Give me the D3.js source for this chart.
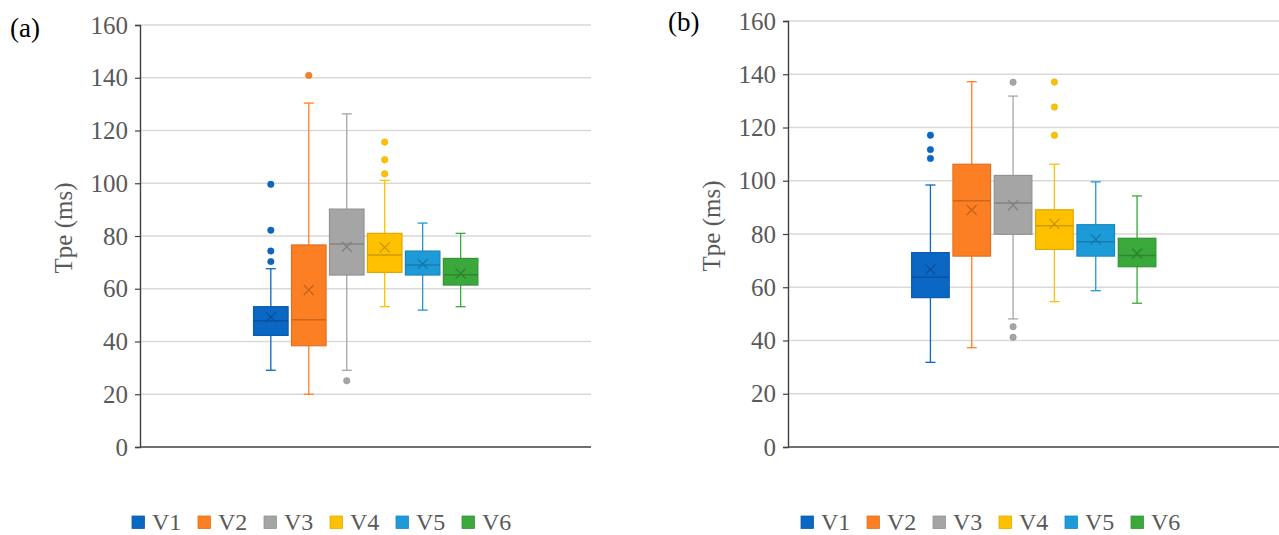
<!DOCTYPE html>
<meta charset="utf-8">
<script src="https://d3js.org/d3.v7.min.js"></script>
<style>
  body { margin: 0; background: #fff; }
</style>
<div id="my_dataviz"></div>

<script>
  // series names and colours
  var series = ["V1", "V2", "V3", "V4", "V5", "V6"];
  var colors = ["#0b67c4", "#fd7f23", "#a5a5a5", "#ffc000", "#1c9bd8", "#3aa83a"];
  var yTicks = [0, 20, 40, 60, 80, 100, 120, 140, 160];

  // panel (a) box statistics
  var aMin    = [29.1, 20.0, 29.1, 53.2, 51.9, 53.2];
  var aQ1     = [42.3, 38.4, 65.2, 66.2, 65.2, 61.4];
  var aMedian = [47.9, 48.2, 77.0, 72.8, 69.0, 65.3];
  var aQ3     = [53.2, 76.6, 90.2, 81.0, 74.3, 71.5];
  var aMax    = [67.6, 130.4, 126.3, 101.1, 84.9, 81.0];
  var aMean   = [49.2, 59.5, 75.9, 75.7, 69.4, 65.8];
  var aOutliers = [[99.6, 82.2, 74.3, 70.3], [140.9], [25.1], [115.6, 108.9, 103.6], [], []];

  // panel (b) box statistics
  var bMin    = [31.8, 37.3, 48.1, 54.6, 58.7, 54.0];
  var bQ1     = [56.1, 71.7, 79.9, 74.2, 71.7, 67.7];
  var bMedian = [63.8, 92.5, 91.6, 83.1, 77.1, 71.9];
  var bQ3     = [73.0, 106.2, 102.0, 89.1, 83.5, 78.4];
  var bMax    = [98.4, 137.2, 131.8, 106.2, 99.6, 94.3];
  var bMean   = [66.7, 89.0, 90.8, 83.8, 78.0, 72.7];
  var bOutliers = [[117.1, 111.7, 108.4], [], [137.0, 45.2, 41.2], [137.1, 127.7, 117.1], [], []];

  var FONT = "'Liberation Serif', 'Times New Roman', Times, 'DejaVu Serif', serif";

  var svg = d3.select("#my_dataviz")
    .append("svg")
    .attr("width", 1279)
    .attr("height", 535)
    .style("font-family", FONT);

  function buildRows(mn, q1, md, q3, mx, mean, outl) {
    return series.map(function (s, i) {
      return { key: s, i: i, min: mn[i], q1: q1[i], median: md[i], q3: q3[i], max: mx[i], mean: mean[i], outliers: outl[i] };
    });
  }

  function drawPanel(cfg) {
    var rows = buildRows.apply(null, cfg.data);
    var w = cfg.right - cfg.left;

    var y = d3.scaleLinear().domain([0, 160]).range([cfg.bottom, cfg.top]);
    var x = d3.scaleBand()
      .domain(series)
      .range([cfg.left + w * 0.248, cfg.left + w * 0.753])
      .paddingInner(0.09)
      .paddingOuter(0.045);

    var g = svg.append("g");

    // gridlines
    g.selectAll("grid")
      .data(yTicks.filter(function (t) { return t > 0; }))
      .enter()
      .append("line")
      .attr("x1", cfg.left)
      .attr("x2", cfg.right)
      .attr("y1", function (d) { return y(d); })
      .attr("y2", function (d) { return y(d); })
      .attr("stroke", "#d9d9d9")
      .attr("stroke-width", 1.3);

    // y axis
    var axis = g.append("g")
      .attr("transform", "translate(" + cfg.left + ",0)")
      .call(d3.axisLeft(y).tickValues(yTicks).tickSize(5).tickPadding(7));
    axis.attr("font-family", null);
    axis.select(".domain").attr("stroke", "#404040").attr("stroke-width", 1.4);
    axis.selectAll(".tick line").attr("stroke", "#404040").attr("stroke-width", 1.2);
    axis.selectAll(".tick text")
      .attr("fill", "#595959")
      .style("font-family", FONT)
      .style("font-size", "25px");

    // x baseline
    g.append("line")
      .attr("x1", cfg.left)
      .attr("x2", cfg.right)
      .attr("y1", y(0))
      .attr("y2", y(0))
      .attr("stroke", "#404040")
      .attr("stroke-width", 1.6);

    // y label
    g.append("text")
      .attr("transform", "translate(" + cfg.labelX + "," + ((cfg.top + cfg.bottom) / 2 - 8) + ") rotate(-90)")
      .attr("text-anchor", "middle")
      .attr("dy", "0.35em")
      .attr("fill", "#595959")
      .style("font-family", FONT)
      .style("font-size", "25px")
      .text("Tpe (ms)");

    // panel tag
    g.append("text")
      .attr("x", cfg.tagX)
      .attr("y", cfg.tagY)
      .attr("fill", "#000")
      .style("font-family", FONT)
      .style("font-size", "27px")
      .text(cfg.tag);

    var bw = x.bandwidth();
    var cap = 5;

    var boxes = g.selectAll("boxes")
      .data(rows)
      .enter()
      .append("g")
      .attr("transform", function (d) { return "translate(" + (x(d.key) + bw / 2) + ",0)"; });

    // whiskers
    boxes.append("line")
      .attr("x1", 0).attr("x2", 0)
      .attr("y1", function (d) { return y(d.max); })
      .attr("y2", function (d) { return y(d.min); })
      .attr("stroke", function (d) { return colors[d.i]; })
      .attr("stroke-width", 1.3);
    boxes.append("line")
      .attr("x1", -cap).attr("x2", cap)
      .attr("y1", function (d) { return y(d.max); })
      .attr("y2", function (d) { return y(d.max); })
      .attr("stroke", function (d) { return colors[d.i]; })
      .attr("stroke-width", 1.3);
    boxes.append("line")
      .attr("x1", -cap).attr("x2", cap)
      .attr("y1", function (d) { return y(d.min); })
      .attr("y2", function (d) { return y(d.min); })
      .attr("stroke", function (d) { return colors[d.i]; })
      .attr("stroke-width", 1.3);

    // box
    boxes.append("rect")
      .attr("x", -bw / 2)
      .attr("width", bw)
      .attr("y", function (d) { return y(d.q3); })
      .attr("height", function (d) { return y(d.q1) - y(d.q3); })
      .attr("fill", function (d) { return colors[d.i]; })
      .attr("stroke", function (d) { return d3.color(colors[d.i]).darker(0.35); })
      .attr("stroke-width", 1.2);

    // median
    boxes.append("line")
      .attr("x1", -bw / 2).attr("x2", bw / 2)
      .attr("y1", function (d) { return y(d.median); })
      .attr("y2", function (d) { return y(d.median); })
      .attr("stroke", function (d) { return d3.color(colors[d.i]).darker(0.6); })
      .attr("stroke-width", 1.5);

    // mean marker (x)
    boxes.append("path")
      .attr("d", function (d) {
        var cy = y(d.mean), s = 5;
        return "M" + (-s) + "," + (cy - s) + "L" + s + "," + (cy + s) +
          "M" + (-s) + "," + (cy + s) + "L" + s + "," + (cy - s);
      })
      .attr("stroke", function (d) { return d3.color(colors[d.i]).darker(0.7); })
      .attr("stroke-width", 1.3)
      .attr("fill", "none");

    // outliers
    boxes.selectAll("outl")
      .data(function (d) { return d.outliers.map(function (v) { return { v: v, i: d.i }; }); })
      .enter()
      .append("circle")
      .attr("cx", 0)
      .attr("cy", function (d) { return y(d.v); })
      .attr("r", 3.2)
      .attr("fill", function (d) { return colors[d.i]; })
      .attr("stroke", function (d) { return d3.color(colors[d.i]).darker(0.3); })
      .attr("stroke-width", 0.6);

    // legend
    var leg = g.selectAll("legend")
      .data(series)
      .enter()
      .append("g")
      .attr("transform", function (d, i) { return "translate(" + (cfg.legendX + i * 66) + ",516)"; });
    leg.append("rect")
      .attr("width", 12.5)
      .attr("height", 12.5)
      .attr("fill", function (d, i) { return colors[i]; })
      .attr("stroke", function (d, i) { return d3.color(colors[i]).darker(0.3); })
      .attr("stroke-width", 0.8);
    leg.append("text")
      .attr("x", 20)
      .attr("y", 14)
      .attr("fill", "#595959")
      .style("font-family", FONT)
      .style("font-size", "24px")
      .text(function (d) { return d; });
  }

  drawPanel({
    data: [aMin, aQ1, aMedian, aQ3, aMax, aMean, aOutliers],
    left: 140, right: 591, top: 25, bottom: 447,
    labelX: 63, tag: "(a)", tagX: 10, tagY: 37, legendX: 132
  });

  drawPanel({
    data: [bMin, bQ1, bMedian, bQ3, bMax, bMean, bOutliers],
    left: 788, right: 1279, top: 21, bottom: 447,
    labelX: 711, tag: "(b)", tagX: 668, tagY: 31, legendX: 801
  });
</script>
